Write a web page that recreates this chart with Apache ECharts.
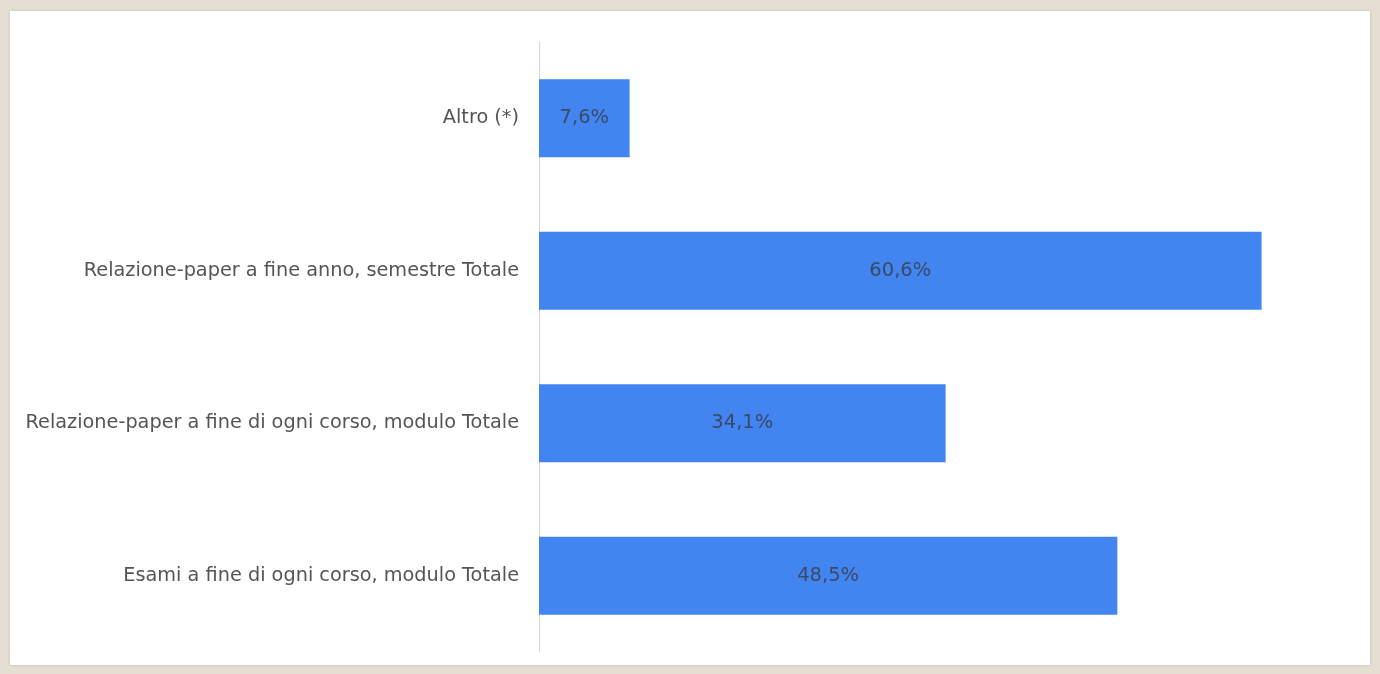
<!DOCTYPE html>
<html>
<head>
<meta charset="utf-8">
<script src="https://cdn.jsdelivr.net/npm/echarts@6/dist/echarts.min.js"></script>
<style>
    html, body { margin: 0; padding: 0; background: #e4ded3; }
    #panel { position: absolute; left: 10px; top: 11px; width: 1360px; height: 654px; background: #fff; box-shadow: 0 0 3px rgba(0,0,0,0.15); }
    #main { position: absolute; left: 0; top: 0; width: 1380px; height: 674px; }
</style>
</head>
<body>
<div id="panel"></div>
<div id="main"></div>
<script>
// categories from bottom to top
var categorie = [
    'Esami a fine di ogni corso, modulo Totale',
    'Relazione-paper a fine di ogni corso, modulo Totale',
    'Relazione-paper a fine anno, semestre Totale',
    'Altro (*)'
]
var valori = [48.5, 34.1, 60.6, 7.6]

var mCharts = echarts.init(document.getElementById('main'))
var option = {
    animation: false,
    grid: {
        left: 539,
        right: 54,
        top: 42,
        bottom: 22
    },
    xAxis: {
        type: 'value',
        min: 0,
        max: 66,
        show: false
    },
    yAxis: {
        type: 'category',
        data: categorie,
        axisLine: { show: true, lineStyle: { color: '#d6d6d6', width: 1 } },
        axisTick: { show: false },
        axisLabel: {
            color: '#555',
            fontFamily: 'DejaVu Sans',
            fontSize: 19.3,
            margin: 20
        }
    },
    series: [
        {
            type: 'bar',
            data: valori,
            barWidth: '51%',
            itemStyle: { color: '#4285f0' },
            label: {
                show: true,
                position: 'inside',
                color: '#3a4a66',
                fontFamily: 'DejaVu Sans',
                fontSize: 19.5,
                formatter: function (p) {
                    return p.value.toFixed(1).replace('.', ',') + '%'
                }
            }
        }
    ]
}
mCharts.setOption(option)
</script>
</body>
</html>
